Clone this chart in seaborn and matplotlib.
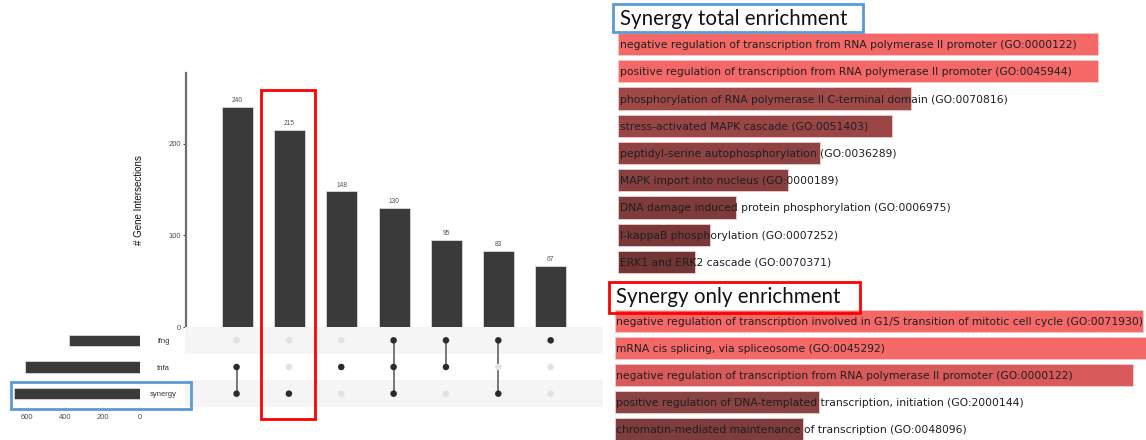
import matplotlib
matplotlib.use("Agg")
import matplotlib.pyplot as plt
import matplotlib.transforms as mtransforms
from matplotlib.patches import Rectangle
import seaborn as sns
import pandas as pd
import numpy as np

# ---------------- data ----------------
set_names = ["ifng", "tnfa", "synergy"]
set_sizes = [375, 613, 668]

intersection_counts = [240, 215, 148, 130, 95, 83, 67]
intersection_members = [
    ["tnfa", "synergy"],
    ["synergy"],
    ["tnfa"],
    ["ifng", "tnfa", "synergy"],
    ["ifng", "tnfa"],
    ["ifng", "synergy"],
    ["ifng"],
]

total_title = "Synergy total enrichment"
total_terms = [
    "negative regulation of transcription from RNA polymerase II promoter (GO:0000122)",
    "positive regulation of transcription from RNA polymerase II promoter (GO:0045944)",
    "phosphorylation of RNA polymerase II C-terminal domain (GO:0070816)",
    "stress-activated MAPK cascade (GO:0051403)",
    "peptidyl-serine autophosphorylation (GO:0036289)",
    "MAPK import into nucleus (GO:0000189)",
    "DNA damage induced protein phosphorylation (GO:0006975)",
    "I-kappaB phosphorylation (GO:0007252)",
    "ERK1 and ERK2 cascade (GO:0070371)",
]
total_scores = [100, 100, 61, 57, 42, 35.4, 24.6, 19.2, 16]
total_colors = ["#F56868", "#F56868", "#9E4848", "#9A4646", "#8E4242",
                "#873F3F", "#7E3B3B", "#783838", "#723535"]

only_title = "Synergy only enrichment"
only_terms = [
    "negative regulation of transcription involved in G1/S transition of mitotic cell cycle (GO:0071930)",
    "mRNA cis splicing, via spliceosome (GO:0045292)",
    "negative regulation of transcription from RNA polymerase II promoter (GO:0000122)",
    "positive regulation of DNA-templated transcription, initiation (GO:2000144)",
    "chromatin-mediated maintenance of transcription (GO:0048096)",
]
only_scores = [99.4, 101, 97.6, 38.4, 35.4]
only_colors = ["#F56868", "#F56868", "#D85A5A", "#8A4343", "#7E3D3D"]

# ---------------- figure ----------------
sns.set_style("white")
plt.rcParams["font.family"] = ["Liberation Sans", "DejaVu Sans"]

W, H = 1146, 440
fig = plt.figure(figsize=(W / 100, H / 100), dpi=100)
fig.patch.set_facecolor("white")


def px_axes(x0, y0, x1, y1):
    return fig.add_axes([x0 / W, 1 - y1 / H, (x1 - x0) / W, (y1 - y0) / H])


def px_rect(x0, y0, x1, y1, color, lw=2.0):
    r = Rectangle((x0 / W, 1 - y1 / H), (x1 - x0) / W, (y1 - y0) / H,
                  transform=fig.transFigure, fill=False, edgecolor=color,
                  linewidth=lw, zorder=20)
    fig.add_artist(r)


XL = (-0.985, 7.0)
bar_dark = "#3A3A3A"

# ---- intersection size bars ----
ax_bar = px_axes(186, 73, 603, 327)
cols = [str(i) for i in range(len(intersection_counts))]
sns.barplot(x=cols, y=intersection_counts, color=bar_dark, width=0.59,
            edgecolor="#D9D9D9", linewidth=0.6, ax=ax_bar, saturation=1)
ax_bar.set_xlim(*XL)
ax_bar.set_ylim(0, 277)
ax_bar.set_xticks([])
ax_bar.set_yticks([0, 100, 200])
ax_bar.tick_params(axis="y", labelsize=5.5, labelcolor="#4D4D4D", length=2,
                   width=0.8, color="#4D4D4D", pad=1.5, left=True)
for s in ["top", "right", "bottom"]:
    ax_bar.spines[s].set_visible(False)
ax_bar.spines["left"].set_color("#6E6E6E")
ax_bar.spines["left"].set_linewidth(1.6)
ax_bar.set_ylabel("# Gene Intersections", fontsize=7, color="#111111", labelpad=18)
ax_bar.bar_label(ax_bar.containers[0], fontsize=4.8, color="#555555", padding=2)
ax_bar.patch.set_alpha(0)

# ---- matrix ----
ax_mat = px_axes(185, 327, 603, 407)
for r in range(len(set_names)):
    if r % 2 == 0:
        ax_mat.axhspan(r - 0.5, r + 0.5, color="#F5F5F5", zorder=0, lw=0)
rows = []
for c, members in enumerate(intersection_members):
    for r, name in enumerate(set_names):
        rows.append({"col": c, "row": r, "member": name in members})
mdf = pd.DataFrame(rows)
for c, members in enumerate(intersection_members):
    idx = [set_names.index(m) for m in members]
    if len(idx) > 1:
        ax_mat.plot([c, c], [min(idx), max(idx)], color="#555555", lw=1.1, zorder=2)
sns.scatterplot(data=mdf, x="col", y="row", hue="member",
                palette={True: "#2B2B2B", False: "#E2E2E2"}, s=22,
                linewidth=0, legend=False, ax=ax_mat, zorder=3)
ax_mat.set_xlim(*XL)
ax_mat.set_ylim(2.5, -0.5)
ax_mat.set_xticks([])
ax_mat.set_yticks([])
ax_mat.set_xlabel("")
ax_mat.set_ylabel("")
for s in ax_mat.spines.values():
    s.set_visible(False)

# ---- set size bars ----
ax_set = px_axes(11, 327, 140, 407)
sns.barplot(x=set_sizes, y=set_names, orient="h", color=bar_dark, width=0.42,
            edgecolor="#D9D9D9", linewidth=0.6, ax=ax_set, saturation=1)
ax_set.set_xlim(685, 0)
ax_set.set_ylim(2.5, -0.5)
ax_set.set_xticks([600, 400, 200, 0])
ax_set.tick_params(axis="x", labelsize=5.5, labelcolor="#4D4D4D", length=2,
                   color="#BBBBBB", pad=3, bottom=True)
ax_set.yaxis.tick_right()
ax_set.set_yticks(range(len(set_names)))
ax_set.set_yticklabels(set_names, ha="center")
ax_set.tick_params(axis="y", labelsize=5.5, labelcolor="#333333", length=0, pad=17)
for s in ax_set.spines.values():
    s.set_visible(False)
ax_set.set_xlabel("")
ax_set.set_ylabel("")


# ---------------- enrichment panels ----------------
def enrichment(ax, terms, scores, colors, xmax):
    sns.barplot(x=scores, y=terms, hue=terms, palette=colors, orient="h",
                width=0.81, legend=False, ax=ax, saturation=1,
                edgecolor="#F3CACA", linewidth=0.6)
    ax.set_xlim(0, xmax)
    ax.set_ylim(len(terms) - 0.5, -0.5)
    ax.set_xticks([])
    ax.set_yticks([])
    ax.set_xlabel("")
    ax.set_ylabel("")
    for s in ax.spines.values():
        s.set_visible(False)
    ax.patch.set_alpha(0)
    off = mtransforms.offset_copy(ax.transData, fig=fig, x=1.5, y=0, units="dots")
    for i, t in enumerate(terms):
        ax.text(0, i, t, transform=off, ha="left", va="center_baseline",
                fontsize=7.75, color="#1E1E1E", family="DejaVu Sans", clip_on=False)


ax_tot = px_axes(618, 30.4, 1146, 275.6)
enrichment(ax_tot, total_terms, total_scores, total_colors, 110)

ax_only = px_axes(615, 307.5, 1146, 442.5)
enrichment(ax_only, only_terms, only_scores, only_colors, 100)

fig.text(620 / W, 1 - 19 / H, total_title, fontsize=14.8, family="Lato",
         ha="left", va="center", color="#111111")
fig.text(616 / W, 1 - 297 / H, only_title, fontsize=14.8, family="Lato",
         ha="left", va="center", color="#111111")

# ---------------- highlight boxes ----------------
px_rect(613, 4, 863, 32, "#5B9BD5")
px_rect(609, 282, 860, 313, "#FF0000")
px_rect(11, 382, 191, 409, "#5B9BD5")
px_rect(261, 90, 315, 419, "#FF0000")

fig.savefig("out.png", dpi=100, facecolor="white")
